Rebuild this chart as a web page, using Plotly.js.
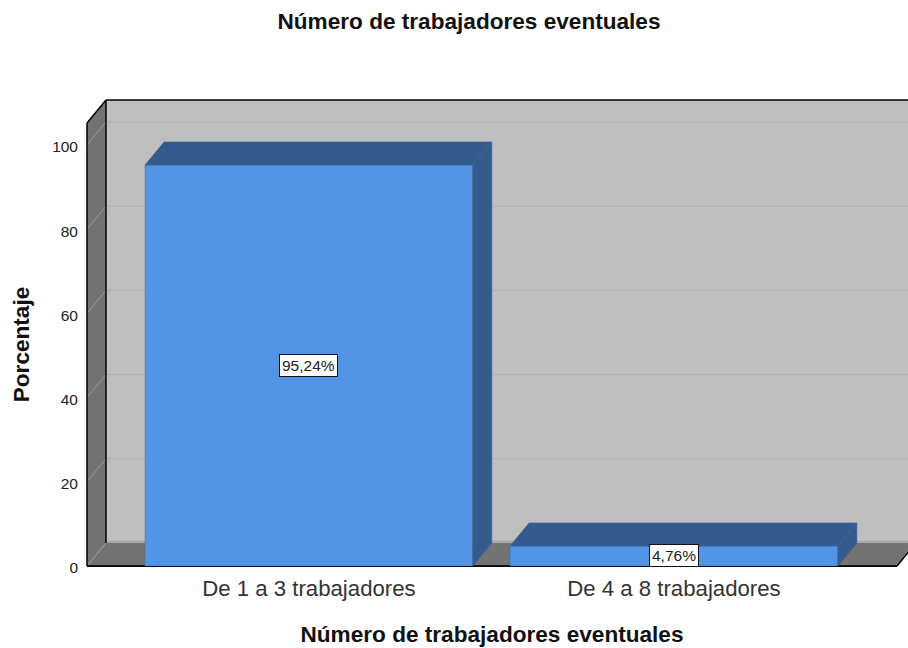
<!DOCTYPE html>
<html>
<head>
<meta charset="utf-8">
<script src="https://cdn.plot.ly/plotly-3.0.1.min.js"></script>
<style>html,body{margin:0;padding:0;background:#fff;overflow:hidden}#chart{width:908px;height:648px}</style>
</head>
<body>
<div id="chart"></div>
<script>
var categories = ["De 1 a 3 trabajadores", "De 4 a 8 trabajadores"];
var values = [95.24, 4.76];
var valueLabels = ["95,24%", "4,76%"];
var yTicks = [0, 20, 40, 60, 80, 100];

var positions = categories.map(function (c, i) { return i; });
var barWidth = 0.898;
var xRange = [-0.608, 1.611];
var yRange = [0, 105.2];
// Oblique depth of the 3D look
var depthX = 0.052, depthY = 5.46;
var pdx = depthX / (xRange[1] - xRange[0]);
var pdy = depthY / yRange[1];

function path(pts) {
  return "M" + pts.map(function (p) { return p[0] + "," + p[1]; }).join("L") + "Z";
}
function area(pts, fill) {
  return {type: "path", xref: "paper", yref: "paper", layer: "below", path: path(pts),
          fillcolor: fill, line: {width: 0}};
}
function seg(x0, y0, x1, y1, color, w) {
  return {type: "line", xref: "paper", yref: "paper", layer: "below",
          x0: x0, y0: y0, x1: x1, y1: y1, line: {color: color, width: w}};
}
var wallRight = 1.03;
var shapes = [
  area([[pdx, pdy], [wallRight, pdy], [wallRight, 1 + pdy], [pdx, 1 + pdy]], "#BFBFBF"),
  area([[0, 0], [pdx, pdy], [pdx, 1 + pdy], [0, 1]], "#737373"),
  area([[0, 0], [1, 0], [1 + pdx, pdy], [pdx, pdy]], "#737373")
];
yTicks.forEach(function (v) {
  var f = v / yRange[1];
  if (v > 0) shapes.push(seg(pdx, f + pdy, wallRight, f + pdy, "#B0B0B0", 1));
  shapes.push(seg(0, f, pdx, f + pdy, "#9A9A9A", 1));
});
shapes.push(seg(pdx, pdy + 0.003, wallRight, pdy + 0.003, "#A5A5A5", 2));
shapes.push(seg(pdx, pdy, pdx, 1 + pdy, "#000000", 1.5));
shapes.push(seg(0, 1, pdx, 1 + pdy, "#000000", 1.5));
shapes.push(seg(0, 0, 0, 1, "#000000", 1.5));
shapes.push(seg(pdx, 1 + pdy, wallRight, 1 + pdy, "#000000", 1.5));
shapes.push(seg(0, 0, 1, 0, "#111111", 2));
shapes.push(seg(1, 0, 1 + pdx, pdy, "#000000", 1.5));

var sideColor = "#345B8D";
var traces = [{
  type: "bar", x: positions, y: values, width: barWidth,
  marker: {color: "#5294E6", line: {color: "#44699A", width: 0.5}},
  hoverinfo: "skip", showlegend: false
}];
positions.forEach(function (x, i) {
  var l = x - barWidth / 2, r = x + barWidth / 2, v = values[i];
  traces.push({
    type: "scatter", mode: "lines", fill: "toself", fillcolor: sideColor,
    x: [l, l + depthX, r + depthX, r, l], y: [v, v + depthY, v + depthY, v, v],
    line: {color: "#3A6294", width: 0.6}, hoverinfo: "skip", showlegend: false
  });
  traces.push({
    type: "scatter", mode: "lines", fill: "toself", fillcolor: sideColor,
    x: [r, r + depthX, r + depthX, r, r], y: [v, v + depthY, depthY, 0, v],
    line: {color: "#3A6294", width: 0.6}, hoverinfo: "skip", showlegend: false
  });
});

var labels = valueLabels.map(function (t, i) {
  return {text: t, x: positions[i], y: values[i] / 2, xref: "x", yref: "y", showarrow: false,
          font: {family: "Liberation Sans", size: 15.5, color: "#222222"},
          bgcolor: "#FFFFFF", bordercolor: "#111111", borderwidth: 1, borderpad: 2};
});

var layout = {
  width: 908, height: 648,
  margin: {l: 87, r: 11, t: 123, b: 82, pad: 0},
  paper_bgcolor: "#FFFFFF", plot_bgcolor: "rgba(0,0,0,0)",
  showlegend: false,
  font: {family: "Liberation Sans", color: "#111111"},
  title: {text: "Número de trabajadores eventuales", x: 469 / 908, xanchor: "center",
          y: 1 - 21 / 648, yanchor: "middle", yref: "container",
          font: {family: "Liberation Sans", size: 22.6, weight: 700, color: "#111111"}},
  xaxis: {range: xRange, tickvals: positions, ticktext: categories, showgrid: false, zeroline: false,
          showline: false, ticks: "", tickfont: {size: 22.2, color: "#333333"}, fixedrange: true,
          ticklabelstandoff: 7,
          title: {text: "Número de trabajadores eventuales", standoff: 25,
                  font: {size: 22.6, weight: 700, color: "#111111"}}},
  yaxis: {range: yRange, tickvals: yTicks, ticktext: yTicks.map(String), showgrid: false, zeroline: false,
          showline: false, ticks: "", tickfont: {size: 15.5, color: "#222222"}, fixedrange: true,
          ticklabelstandoff: 8, ticklabelshift: 2,
          title: {text: "Porcentaje", standoff: 16, font: {size: 22.6, weight: 700, color: "#111111"}}},
  shapes: shapes,
  annotations: labels
};
Plotly.newPlot("chart", traces, layout, {displayModeBar: false, responsive: false});
</script>
</body>
</html>
